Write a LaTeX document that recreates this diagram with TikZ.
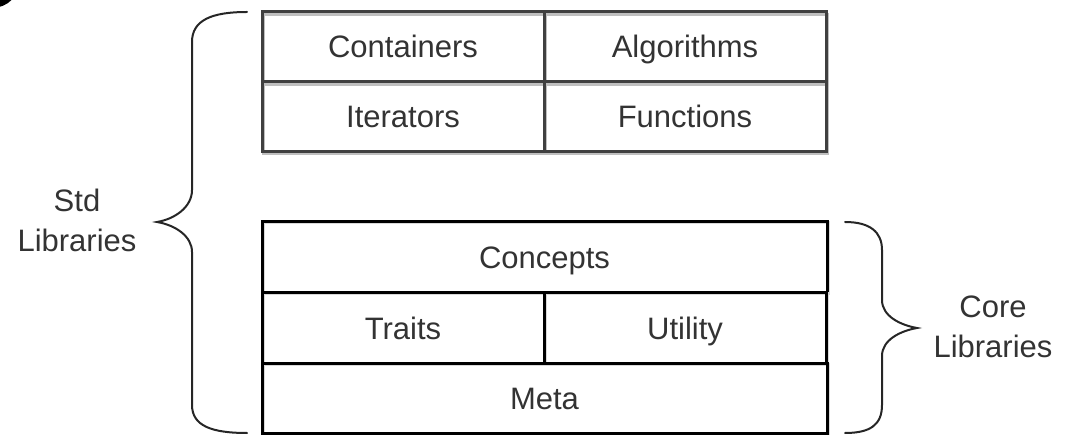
\documentclass[tikz,border=0pt]{standalone}
\usepackage{fontspec}
\setmainfont{Liberation Sans}
\begin{document}
\begin{tikzpicture}[x=1pt,y=-1pt,
  lbl/.style={font=\fontsize{31}{33}\selectfont, text=black!80},
  cellbase/.style={inner sep=0pt, lbl, text height=22pt, text depth=0pt},
  topcell/.style={cellbase, draw=black!75, line width=3pt,
    minimum width=282pt, minimum height=70pt,
    preaction={draw=black!25, line width=3pt, transform canvas={shift={(1pt,-2.5pt)}}}},
  botcell/.style={cellbase, draw=black, line width=3pt,
    minimum height=71pt,
    preaction={draw=black!15, line width=3pt, transform canvas={shift={(1.5pt,-1pt)}}}},
  bracestroke/.style={draw=black!85, line width=2pt, line cap=round}
]
\useasboundingbox (0,0) rectangle (1068,435);
\begin{scope}
\clip (0,0) rectangle (1068,435);
\fill[black] (-8,-20) circle[radius=28];
\end{scope}
% top group
\node[topcell] (cont) at (403,47) {Containers};
\node[topcell] (algo) at (685,47) {Algorithms};
\node[topcell] (iter) at (403,116.5) {Iterators};
\node[topcell] (func) at (685,116.5) {Functions};
% bottom group
\node[botcell, minimum width=565pt] (conc) at (544.5,257.5) {Concepts};
\node[botcell, minimum width=282pt] (trai) at (403,328.5) {Traits};
\node[botcell, minimum width=282pt] (util) at (685,328.5) {Utility};
\node[botcell, minimum width=565pt, minimum height=69pt] (meta) at (544.5,398.5) {Meta};
% labels
\node[lbl, align=center, font=\fontsize{31}{40}\selectfont] (std) at (77,220) {Std\\Libraries};
\node[lbl, align=center, font=\fontsize{31}{40}\selectfont] (core) at (993,327) {Core\\Libraries};
% braces
\coordinate (lbt) at (247,12);
\coordinate (lbb) at (247,433);
\coordinate (lbtip) at (157,222);
\draw[bracestroke] (lbt) .. controls (212,12) and (192,20) .. (192,42)
  -- (192,190) .. controls (192,207) and (175,219) .. (lbtip)
  .. controls (175,225) and (192,236) .. (192,252)
  -- (192,405) .. controls (192,426) and (212,433) .. (lbb);
\coordinate (rbt) at (845,222);
\coordinate (rbb) at (845,433);
\coordinate (rbtip) at (917,328);
\draw[bracestroke] (rbt) .. controls (870,222) and (882,232) .. (882,250)
  -- (882,300) .. controls (882,316) and (900,325) .. (rbtip)
  .. controls (900,331) and (882,340) .. (882,356)
  -- (882,405) .. controls (882,425) and (870,433) .. (rbb);
\end{tikzpicture}
\end{document}
